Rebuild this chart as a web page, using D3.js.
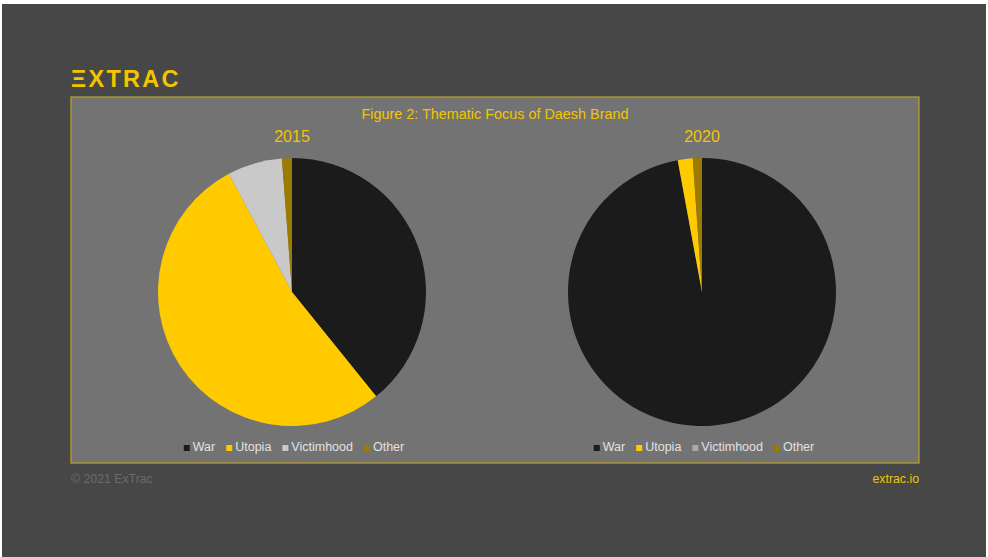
<!DOCTYPE html>
<html lang="en">
<head>
    <meta charset="UTF-8">
    <script src="https://d3js.org/d3.v7.min.js"></script>
    <style>
        body{ margin:0; background:#fff; }
        text{ font-family:"Liberation Sans", Arial, sans-serif; }
    </style>
    <title>Thematic Focus of Daesh Brand</title>
</head>
<body>
    <div class="canvas"></div>
</body>
<script>
    const width = 988;
    const height = 557;

    // data (% share of content)
    const categories = ['War','Utopia','Victimhood','Other'];
    const years = ['2015','2020'];
    const values2015 = [39.2, 53.0, 6.6, 1.2];
    const values2020 = [97.1, 1.8, 0, 1.1];
    const colors = ['#1b1b1b','#ffcb00','#c9c9c9','#9b7b00'];
    const legendColors2020 = ['#1b1b1b','#ffcb00','#a8a8a8','#9b7b00'];

    const svg = d3.select('.canvas')
                    .append('svg')
                    .attr('width',width)
                    .attr('height',height);

    // slide background
    svg.append('rect')
        .attr('x',2).attr('y',4)
        .attr('width',width-4).attr('height',height-4)
        .attr('fill','#474747');

    // logo
    svg.append('text')
        .attr('x',71).attr('y',87)
        .attr('fill','#f2c500')
        .style('font-size','23.5px')
        .style('font-weight','bold')
        .style('letter-spacing','2.3px')
        .text('ΞXTRAC');

    // panel
    const [pl,pt,pw,ph] = [71,97,848,366];
    svg.append('rect')
        .attr('x',pl).attr('y',pt)
        .attr('width',pw).attr('height',ph)
        .attr('fill','#737373')
        .attr('stroke','#b59c2c')
        .attr('stroke-width',1.3);

    svg.append('text')
        .attr('x',pl+pw/2).attr('y',119)
        .attr('text-anchor','middle')
        .attr('fill','#f2c500')
        .style('font-size','14.4px')
        .text('Figure 2: Thematic Focus of Daesh Brand');

    const pie = d3.pie().sort(null).value(d => d.value);
    const radius = 134;
    const arc = d3.arc().innerRadius(0).outerRadius(radius);
    const centers = d3.scalePoint().domain(years).range([292,702]);

    const series = [values2015, values2020];
    const legendFills = [colors, legendColors2020];

    years.forEach((yr,i) => {
        const cx = centers(yr);
        const data = categories.map((c,j) => ({name:c, value:series[i][j], color:colors[j]}));

        svg.append('text')
            .attr('x',cx).attr('y',142)
            .attr('text-anchor','middle')
            .attr('fill','#f5c400')
            .style('font-size','16px')
            .text(yr);

        const g = svg.append('g')
                    .attr('transform',`translate(${cx},292)`);
        g.selectAll('path')
            .data(pie(data))
            .enter()
            .append('path')
            .attr('d',arc)
            .attr('fill',d => d.data.color);

        // legend
        const lg = svg.append('g');
        let x = 0;
        categories.forEach((c,j) => {
            const item = lg.append('g').attr('transform',`translate(${x},0)`);
            item.append('rect')
                .attr('x',0).attr('y',-6)
                .attr('width',6).attr('height',6)
                .attr('fill',legendFills[i][j]);
            const t = item.append('text')
                .attr('x',9).attr('y',0)
                .attr('fill','#e2e2e2')
                .style('font-size','12.5px')
                .text(c);
            x += 9 + t.node().getComputedTextLength() + 11;
        });
        const total = x - 11;
        lg.attr('transform',`translate(${cx - total/2 + 2},451)`);
    });

    // footer
    svg.append('text')
        .attr('x',71).attr('y',483)
        .attr('fill','#6b6b6b')
        .style('font-size','12.3px')
        .text('© 2021 ExTrac');
    svg.append('text')
        .attr('x',919).attr('y',483)
        .attr('text-anchor','end')
        .attr('fill','#f2c500')
        .style('font-size','12.3px')
        .text('extrac.io');
</script>
</html>
